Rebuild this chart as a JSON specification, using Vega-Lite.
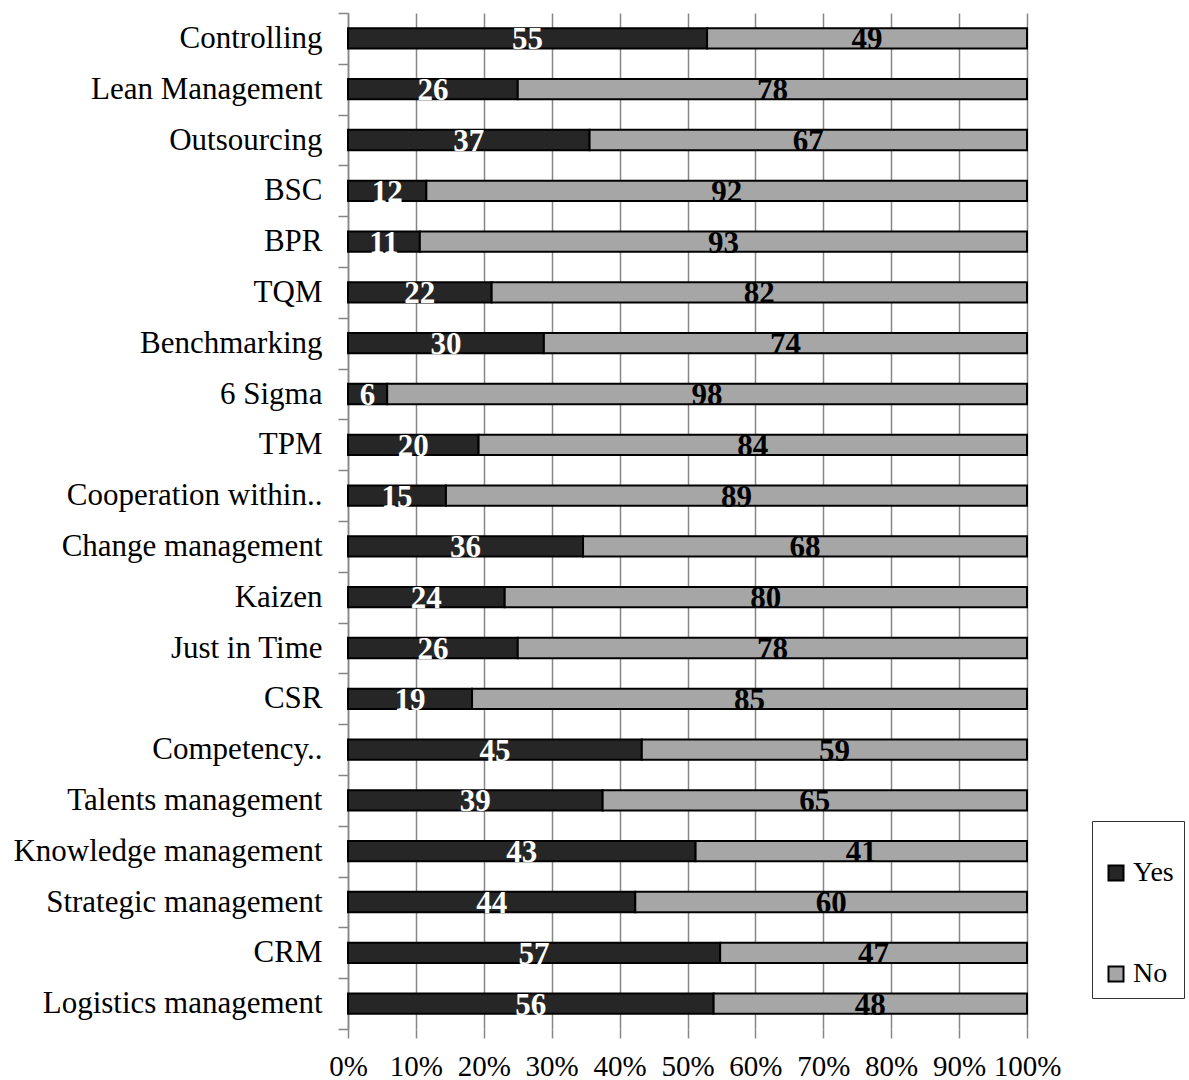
{
  "$schema": "https://vega.github.io/schema/vega-lite/v6.json",
  "width": 679,
  "height": 1016,
  "autosize": "none",
  "padding": {"left": 348, "top": 13, "right": 162, "bottom": 51},
  "background": "white",
  "config": {"view": {"stroke": null}, "font": "Liberation Serif"},
  "data": {
    "values": [
      {"item": "Controlling", "answer": "Yes", "n": 55},
      {"item": "Controlling", "answer": "No", "n": 49},
      {"item": "Lean Management", "answer": "Yes", "n": 26},
      {"item": "Lean Management", "answer": "No", "n": 78},
      {"item": "Outsourcing", "answer": "Yes", "n": 37},
      {"item": "Outsourcing", "answer": "No", "n": 67},
      {"item": "BSC", "answer": "Yes", "n": 12},
      {"item": "BSC", "answer": "No", "n": 92},
      {"item": "BPR", "answer": "Yes", "n": 11},
      {"item": "BPR", "answer": "No", "n": 93},
      {"item": "TQM", "answer": "Yes", "n": 22},
      {"item": "TQM", "answer": "No", "n": 82},
      {"item": "Benchmarking", "answer": "Yes", "n": 30},
      {"item": "Benchmarking", "answer": "No", "n": 74},
      {"item": "6 Sigma", "answer": "Yes", "n": 6},
      {"item": "6 Sigma", "answer": "No", "n": 98},
      {"item": "TPM", "answer": "Yes", "n": 20},
      {"item": "TPM", "answer": "No", "n": 84},
      {"item": "Cooperation within..", "answer": "Yes", "n": 15},
      {"item": "Cooperation within..", "answer": "No", "n": 89},
      {"item": "Change management", "answer": "Yes", "n": 36},
      {"item": "Change management", "answer": "No", "n": 68},
      {"item": "Kaizen", "answer": "Yes", "n": 24},
      {"item": "Kaizen", "answer": "No", "n": 80},
      {"item": "Just in Time", "answer": "Yes", "n": 26},
      {"item": "Just in Time", "answer": "No", "n": 78},
      {"item": "CSR", "answer": "Yes", "n": 19},
      {"item": "CSR", "answer": "No", "n": 85},
      {"item": "Competency..", "answer": "Yes", "n": 45},
      {"item": "Competency..", "answer": "No", "n": 59},
      {"item": "Talents management", "answer": "Yes", "n": 39},
      {"item": "Talents management", "answer": "No", "n": 65},
      {"item": "Knowledge management", "answer": "Yes", "n": 43},
      {"item": "Knowledge management", "answer": "No", "n": 41},
      {"item": "Strategic management", "answer": "Yes", "n": 44},
      {"item": "Strategic management", "answer": "No", "n": 60},
      {"item": "CRM", "answer": "Yes", "n": 57},
      {"item": "CRM", "answer": "No", "n": 47},
      {"item": "Logistics management", "answer": "Yes", "n": 56},
      {"item": "Logistics management", "answer": "No", "n": 48}
    ]
  },
  "transform": [
    {"stack": "n", "groupby": ["item"], "sort": [{"field": "answer", "order": "descending"}], "offset": "normalize", "as": ["x0", "x1"]},
    {"calculate": "(datum.x0 + datum.x1) / 2", "as": "mid"}
  ],
  "encoding": {
    "y": {
      "field": "item",
      "type": "nominal",
      "sort": ["Controlling", "Lean Management", "Outsourcing", "BSC", "BPR", "TQM", "Benchmarking", "6 Sigma", "TPM", "Cooperation within..", "Change management", "Kaizen", "Just in Time", "CSR", "Competency..", "Talents management", "Knowledge management", "Strategic management", "CRM", "Logistics management"],
      "scale": {"paddingInner": 0, "paddingOuter": 0},
      "axis": {
        "title": null,
        "tickBand": "extent",
        "tickSize": 10,
        "tickColor": "#868686",
        "tickWidth": 1.5,
        "domainColor": "#868686",
        "domainWidth": 1.5,
        "labelFont": "Liberation Serif",
        "labelFontSize": 31,
        "labelColor": "black",
        "labelPadding": 16,
        "labelLimit": 500
      }
    }
  },
  "layer": [
    {
      "mark": {"type": "bar", "stroke": "black", "strokeWidth": 2, "height": {"band": 0.4}},
      "encoding": {
        "x": {
          "field": "x0",
          "type": "quantitative",
          "scale": {"domain": [0, 1], "nice": false},
          "axis": {
            "title": null,
            "values": [0, 0.1, 0.2, 0.3, 0.4, 0.5, 0.6, 0.7, 0.8, 0.9, 1],
            "format": ".0%",
            "grid": true,
            "gridColor": "#868686",
            "gridWidth": 1.5,
            "domain": false,
            "tickSize": 9,
            "tickColor": "#868686",
            "tickWidth": 1.5,
            "labelFont": "Liberation Serif",
            "labelFontSize": 29,
            "labelColor": "black",
            "labelPadding": 14,
            "labelFlush": false
          }
        },
        "x2": {"field": "x1"},
        "color": {
          "field": "answer",
          "type": "nominal",
          "scale": {"domain": ["Yes", "No"], "range": ["#262626", "#a6a6a6"]},
          "legend": {
            "orient": "none",
            "legendX": 744,
            "legendY": 808,
            "title": "\u00a0\u00a0\u00a0\u00a0\u00a0\u00a0\u00a0\u00a0\u00a0\u00a0\u00a0\u00a0\u00a0\u00a0\u00a0\u00a0\u00a0\u00a0\u00a0\u00a0\u00a0\u00a0\u00a0\u00a0\u00a0\u00a0\u00a0\u00a0\u00a0\u00a0\u00a0\u00a0\u00a0\u00a0\u00a0\u00a0\u00a0\u00a0\u00a0\u00a0",
            "titleFontSize": 12,
            "titlePadding": 16,
            "titleLimit": 500,
            "padding": 10,
            "strokeColor": "#333333",
            "fillColor": "white",
            "labelFont": "Liberation Serif",
            "labelFontSize": 28,
            "labelColor": "black",
            "labelOffset": 3,
            "symbolType": "square",
            "symbolSize": 225,
            "symbolStrokeColor": "black",
            "symbolStrokeWidth": 2,
            "symbolOpacity": 1,
            "rowPadding": 73
          }
        }
      }
    },
    {
      "mark": {"type": "text", "font": "Liberation Serif", "fontWeight": "bold", "fontSize": 31, "baseline": "middle", "dy": 2},
      "encoding": {
        "x": {"field": "mid", "type": "quantitative"},
        "text": {"field": "n", "type": "quantitative"},
        "color": {"condition": {"test": "datum.answer === 'Yes'", "value": "white"}, "value": "black"}
      }
    }
  ]
}
